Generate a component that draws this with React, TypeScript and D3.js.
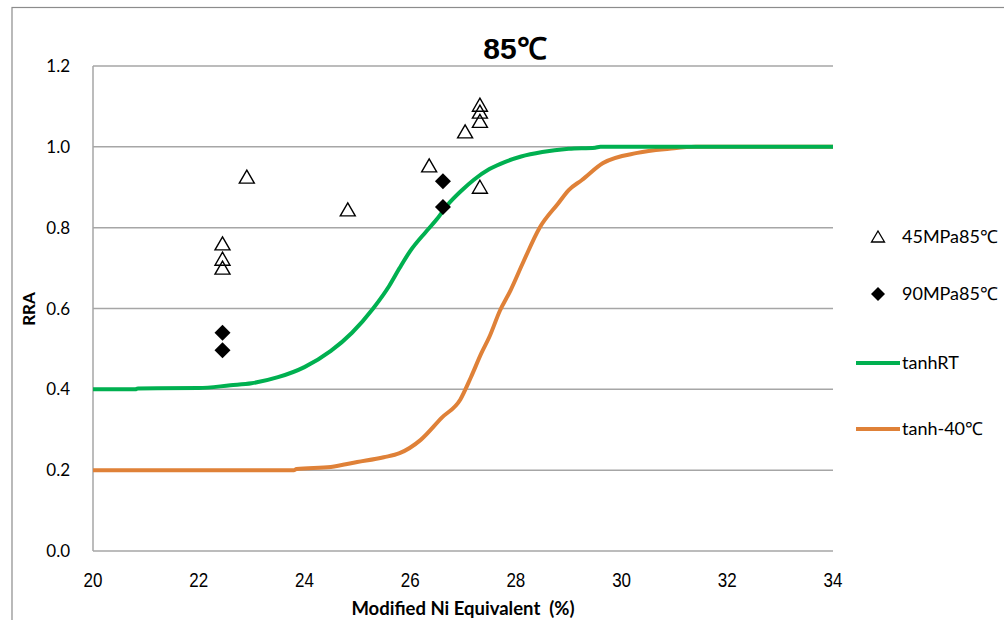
import React from "react";
import * as d3 from "d3";

const xTicks = [20, 22, 24, 26, 28, 30, 32, 34];
const yTicks = [0.0, 0.2, 0.4, 0.6, 0.8, 1.0, 1.2];

const s45x = [22.45, 22.45, 22.45, 22.91, 24.82, 26.36, 27.04, 27.32, 27.32, 27.32, 27.32];
const s45y = [0.76, 0.722, 0.70, 0.925, 0.844, 0.953, 1.037, 1.103, 1.086, 1.063, 0.90];

const s90x = [22.45, 22.45, 26.62, 26.62];
const s90y = [0.54, 0.497, 0.915, 0.851];

const rtX = [20, 20.8, 20.85, 22.0, 22.6, 23.0, 23.5, 24.0, 24.5, 24.9, 25.3, 25.6, 25.8, 26.0, 26.3, 26.5, 26.7, 27.0, 27.2, 27.5, 27.8, 28.1, 28.5, 29.0, 29.5, 29.6, 34];
const rtY = [0.4, 0.4, 0.402, 0.403, 0.41, 0.415, 0.43, 0.455, 0.495, 0.54, 0.6, 0.655, 0.70, 0.742, 0.79, 0.82, 0.855, 0.895, 0.918, 0.945, 0.963, 0.976, 0.987, 0.995, 0.998, 1.0, 1.0];

const m40X = [20, 23.8, 23.85, 24.5, 25.0, 25.5, 25.8, 26.2, 26.6, 26.95, 27.15, 27.35, 27.5, 27.7, 27.9, 28.13, 28.45, 28.8, 29.0, 29.25, 29.65, 30.3, 30.9, 31.4, 34];
const m40Y = [0.2, 0.2, 0.203, 0.208, 0.22, 0.232, 0.242, 0.275, 0.33, 0.375, 0.43, 0.49, 0.53, 0.595, 0.645, 0.712, 0.8, 0.86, 0.893, 0.918, 0.96, 0.985, 0.995, 1.0, 1.0];

const legendLabels = ["45MPa85℃", "90MPa85℃", "tanhRT", "tanh-40℃"];

const GREEN = "#00B050";
const ORANGE = "#DF8138";
const GRID = "#A6A6A6";

const arial = "'Liberation Sans', Arial, sans-serif";
const calib = "Lato, 'Open Sans', sans-serif";

const tri = "M0,-7L7.5,6L-7.5,6Z";
const dia = "M0,-8L8,0L0,8L-8,0Z";

export default function App() {
  const x = d3.scaleLinear().domain([20, 34]).range([93, 833]);
  const y = d3.scaleLinear().domain([0, 1.2]).range([551, 66]);
  const line = d3
    .line<[number, number]>()
    .x((d) => x(d[0]))
    .y((d) => y(d[1]))
    .curve(d3.curveMonotoneX);
  const rt: [number, number][] = rtX.map((v, i) => [v, rtY[i]]);
  const m40: [number, number][] = m40X.map((v, i) => [v, m40Y[i]]);

  const legY = [237, 294, 363, 429];

  return (
    <svg width={1004} height={620} style={{ position: "absolute", left: 0, top: 0, background: "#fff" }}>
      <rect x={12} y={7.5} width={1100} height={700} fill="#fff" stroke="#8c8c8c" strokeWidth={1.2} />
      <text x={515} y={59} textAnchor="middle" fontFamily={arial} fontWeight="bold" fontSize={30} fill="#000">85℃</text>
      {yTicks.map((t) => (
        <g key={t}>
          <line x1={93} x2={833} y1={y(t)} y2={y(t)} stroke={GRID} strokeWidth={1.5} />
          <text x={70} y={y(t) + 6} textAnchor="end" fontFamily={calib} fontSize={17} fill="#000">{t.toFixed(1)}</text>
        </g>
      ))}
      <line x1={93} x2={93} y1={66} y2={551} stroke={GRID} strokeWidth={1.5} />
      {xTicks.map((t) => (
        <text key={t} transform={`translate(${x(t)},587) scale(0.85,1)`} textAnchor="middle" fontFamily={arial} fontSize={20} fill="#000">{t}</text>
      ))}
      <text x={463} y={615} textAnchor="middle" fontFamily={calib} fontWeight="bold" fontSize={18.5} fill="#000" style={{ whiteSpace: "pre" }}>Modified Ni Equivalent  (%)</text>
      <text transform="translate(35,309) rotate(-90)" textAnchor="middle" fontFamily={calib} fontWeight="bold" fontSize={17} fill="#000">RRA</text>

      <path d={line(m40) || ""} fill="none" stroke={ORANGE} strokeWidth={4} strokeLinejoin="round" />
      <path d={line(rt) || ""} fill="none" stroke={GREEN} strokeWidth={4} strokeLinejoin="round" />

      {s45x.map((v, i) => (
        <path key={"a" + i} d={tri} transform={`translate(${x(v)},${y(s45y[i])})`} fill="none" stroke="#000" strokeWidth={1.4} />
      ))}
      {s90x.map((v, i) => (
        <path key={"b" + i} d={dia} transform={`translate(${x(v)},${y(s90y[i])})`} fill="#000" />
      ))}

      <path d="M0,-6L6.5,5L-6.5,5Z" transform={`translate(878,${legY[0]})`} fill="none" stroke="#000" strokeWidth={1.3} />
      <path d="M0,-7L7,0L0,7L-7,0Z" transform={`translate(878,${legY[1]})`} fill="#000" />
      <line x1={856} x2={900} y1={legY[2]} y2={legY[2]} stroke={GREEN} strokeWidth={4} />
      <line x1={856} x2={900} y1={legY[3]} y2={legY[3]} stroke={ORANGE} strokeWidth={4} />
      {legendLabels.map((l, i) => (
        <text key={l} x={902} y={legY[i] + 6} fontFamily={calib} fontSize={18} fill="#000">{l}</text>
      ))}
    </svg>
  );
}
